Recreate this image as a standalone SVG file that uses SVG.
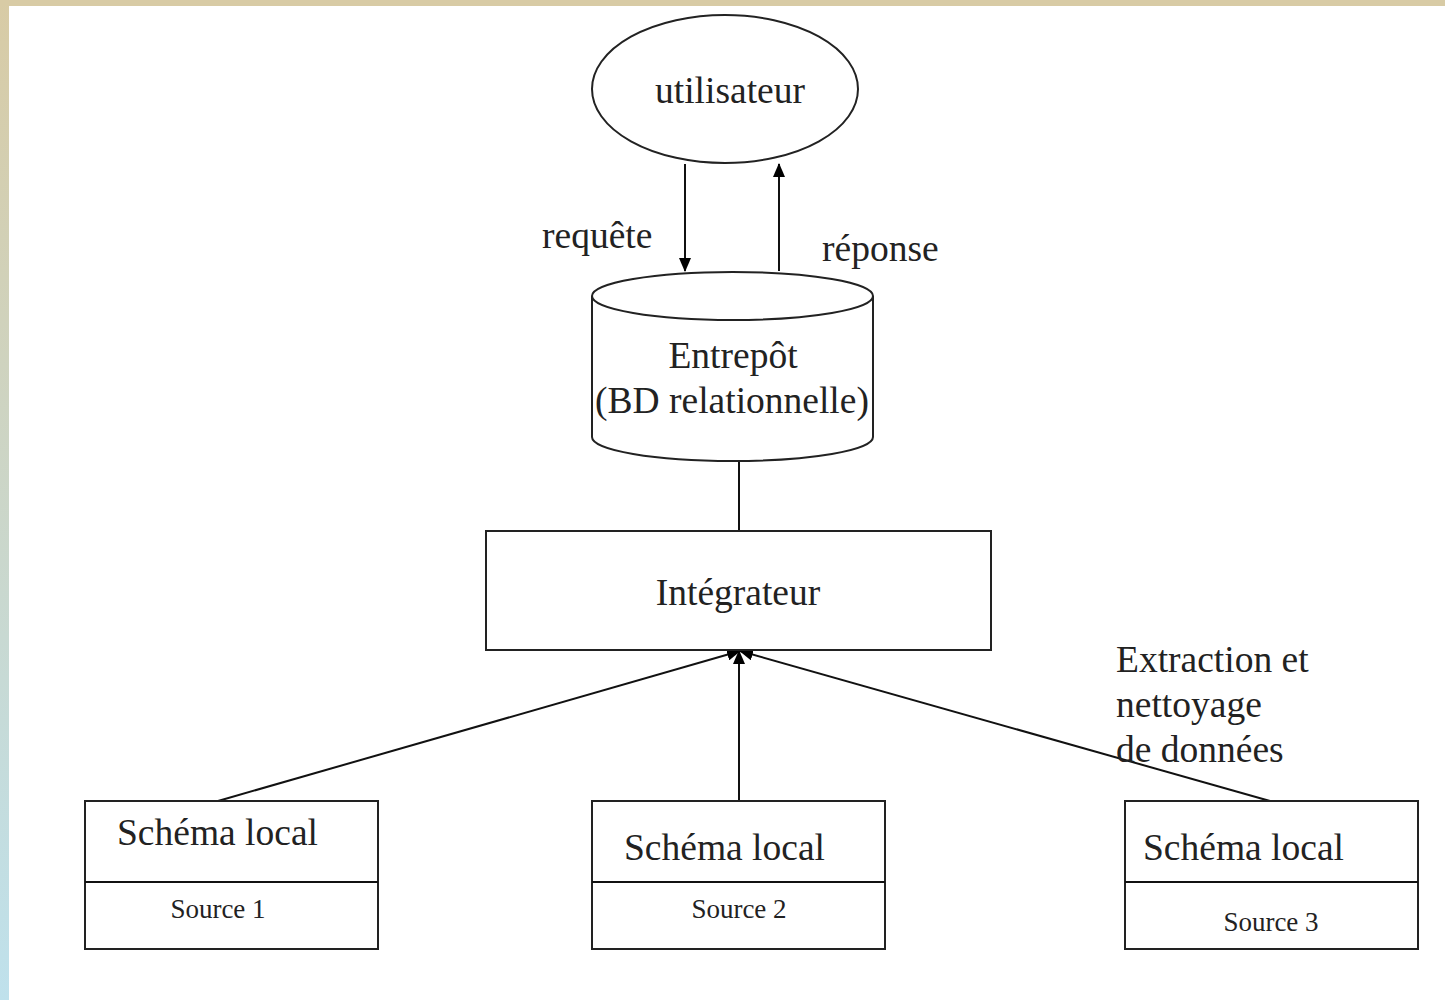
<svg xmlns="http://www.w3.org/2000/svg" width="1445" height="1000" viewBox="0 0 1445 1000">
  <defs>
    <linearGradient id="edge" x1="0" y1="0" x2="0" y2="1">
      <stop offset="0" stop-color="#d8cba5"/>
      <stop offset="1" stop-color="#bfe1ec"/>
    </linearGradient>
    <marker id="arrow" viewBox="0 0 14 12" refX="13" refY="6" markerWidth="14" markerHeight="12" markerUnits="userSpaceOnUse" orient="auto">
      <path d="M0,0 L14,6 L0,12 Z" fill="#000"/>
    </marker>
    <style>
      .shape { fill: #fff; stroke: #222; stroke-width: 2; }
      .edge { fill: none; stroke: #111; stroke-width: 2; }
      .lbl { font-family: "Liberation Serif", "Times New Roman", serif; font-size: 37.5px; fill: #222; }
      .small { font-family: "Liberation Serif", "Times New Roman", serif; font-size: 27px; fill: #222; }
      .mid { text-anchor: middle; }
    </style>
  </defs>

  <!-- page background and frame edges -->
  <rect x="0" y="0" width="1445" height="1000" fill="#fff"/>
  <rect x="0" y="0" width="9" height="1000" fill="url(#edge)"/>
  <rect x="0" y="0" width="1445" height="6" fill="#d8cba5"/>

  <!-- connectors -->
  <g id="connectors">
    <line class="edge" x1="685" y1="164" x2="685" y2="271" marker-end="url(#arrow)"/>
    <line class="edge" x1="779" y1="271" x2="779" y2="164" marker-end="url(#arrow)"/>
    <line class="edge" x1="739" y1="461" x2="739" y2="531"/>
    <line class="edge" x1="218" y1="801" x2="740" y2="651" marker-end="url(#arrow)"/>
    <line class="edge" x1="739" y1="801" x2="739" y2="651" marker-end="url(#arrow)"/>
    <line class="edge" x1="1270" y1="801" x2="740" y2="651" marker-end="url(#arrow)"/>
  </g>

  <!-- user -->
  <g id="utilisateur">
    <ellipse class="shape" cx="725" cy="89" rx="133" ry="74"/>
    <text class="lbl mid" x="730" y="103">utilisateur</text>
  </g>

  <!-- edge labels -->
  <g id="labels">
    <text class="lbl" x="542" y="248">requête</text>
    <text class="lbl" x="822" y="261">réponse</text>
    <text class="lbl" x="1116" y="672">Extraction et</text>
    <text class="lbl" x="1116" y="717">nettoyage</text>
    <text class="lbl" x="1116" y="762">de données</text>
  </g>

  <!-- warehouse cylinder -->
  <g id="entrepot">
    <path class="shape" d="M592,296 L592,437 A140.5,24 0 0 0 873,437 L873,296"/>
    <ellipse class="shape" cx="732.5" cy="296" rx="140.5" ry="24"/>
    <text class="lbl mid" x="733" y="368">Entrepôt</text>
    <text class="lbl mid" x="732" y="413">(BD relationnelle)</text>
  </g>

  <!-- integrator -->
  <g id="integrateur">
    <rect class="shape" x="486" y="531" width="505" height="119"/>
    <text class="lbl mid" x="738" y="605">Intégrateur</text>
  </g>

  <!-- local sources -->
  <g id="source1">
    <rect class="shape" x="85" y="801" width="293" height="148"/>
    <line class="edge" x1="85" y1="882" x2="378" y2="882"/>
    <text class="lbl" x="117" y="845">Schéma local</text>
    <text class="small mid" x="218" y="918">Source 1</text>
  </g>
  <g id="source2">
    <rect class="shape" x="592" y="801" width="293" height="148"/>
    <line class="edge" x1="592" y1="882" x2="885" y2="882"/>
    <text class="lbl" x="624" y="860">Schéma local</text>
    <text class="small mid" x="739" y="918">Source 2</text>
  </g>
  <g id="source3">
    <rect class="shape" x="1125" y="801" width="293" height="148"/>
    <line class="edge" x1="1125" y1="882" x2="1418" y2="882"/>
    <text class="lbl" x="1143" y="860">Schéma local</text>
    <text class="small mid" x="1271" y="931">Source 3</text>
  </g>
</svg>
